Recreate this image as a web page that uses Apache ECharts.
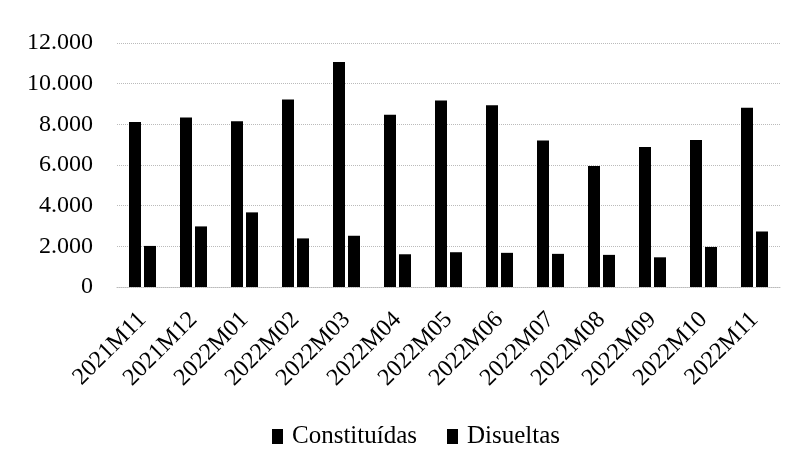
<!DOCTYPE html>
<html>
<head>
<meta charset="utf-8">
<script src="https://cdn.jsdelivr.net/npm/echarts@6/dist/echarts.min.js"></script>
<style>
  html, body { margin: 0; padding: 0; background: #fff; }
  #chart { width: 797px; height: 464px; }
</style>
</head>
<body>
<div id="chart"></div>
<script>
"use strict";

const months = [
  "2021M11", "2021M12", "2022M01", "2022M02", "2022M03", "2022M04", "2022M05",
  "2022M06", "2022M07", "2022M08", "2022M09", "2022M10", "2022M11",
];
const constituidas = [8110, 8330, 8150, 9220, 11060, 8470, 9170, 8940, 7200, 5950, 6890, 7230, 8810];
const disueltas = [2020, 2980, 3670, 2390, 2520, 1610, 1710, 1680, 1630, 1580, 1460, 1970, 2730];

const chart = echarts.init(document.getElementById("chart"));

const serif = "Liberation Serif";
const fmt = (v) => String(v).replace(/\B(?=(\d{3})+(?!\d))/g, ".");

chart.setOption({
  backgroundColor: "#fff",
  animation: false,
  textStyle: { fontFamily: serif },

  grid: { left: 117, right: 17, top: 43, bottom: 177 },

  legend: {
    data: ["Constituídas", "Disueltas"],
    top: 419,
    left: 267,
    icon: "rect",
    itemWidth: 11,
    itemHeight: 15,
    itemGap: 30,
    textStyle: { fontFamily: serif, fontSize: 25, color: "#000", padding: [0, 0, 0, 4] },
  },

  xAxis: {
    type: "category",
    data: months,
    axisLine: { lineStyle: { color: "#bbb", type: "dotted" } },
    axisTick: { show: false },
    axisLabel: {
      rotate: 45,
      interval: 0,
      margin: 29,
      fontFamily: serif,
      fontSize: 24,
      color: "#000",
    },
  },

  yAxis: {
    type: "value",
    min: 0,
    max: 12000,
    interval: 2000,
    axisLine: { show: false },
    axisTick: { show: false },
    splitLine: { lineStyle: { color: "#bbb", type: "dotted" } },
    axisLabel: {
      margin: 24,
      fontFamily: serif,
      fontSize: 24,
      color: "#000",
      formatter: fmt,
    },
  },

  series: [
    {
      name: "Constituídas",
      type: "bar",
      data: constituidas,
      barWidth: 12,
      barGap: "25%",
      itemStyle: { color: "#000" },
    },
    {
      name: "Disueltas",
      type: "bar",
      data: disueltas,
      barWidth: 12,
      itemStyle: { color: "#000" },
    },
  ],
});
</script>
</body>
</html>
